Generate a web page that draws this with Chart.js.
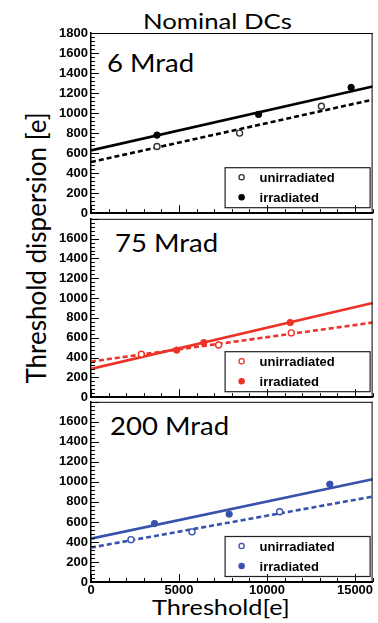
<!DOCTYPE html>
<html><head><meta charset="utf-8">
<script src="https://cdn.jsdelivr.net/npm/chart.js@4.4.0/dist/chart.umd.min.js"></script>
<style>
html,body{margin:0;padding:0;background:#fff;}
body{width:378px;height:623px;position:relative;overflow:hidden;}
canvas{position:absolute;left:0;}
.t{position:absolute;white-space:nowrap;color:#000;font-family:Lato,sans-serif;line-height:1;transform-origin:0 50%;}
</style></head><body>
<div class="t" style="left:143px;top:10px;font-size:22px;transform:scaleX(1.17);">Nominal DCs</div>
<div class="t" style="left:36px;top:248px;font-size:26px;transform-origin:50% 50%;transform:translate(-50%,-50%) rotate(-90deg);">Threshold dispersion [e]</div>
<div class="t" style="left:152px;top:596px;font-size:22px;transform:scaleX(1.15);">Threshold[e]</div>
<div class="t" id="lab0" style="left:107px;top:50px;font-size:25px;transform:scaleX(1.1);"></div>
<div class="t" id="lab1" style="left:115px;top:230px;font-size:25px;transform:scaleX(1.1);"></div>
<div class="t" id="lab2" style="left:110px;top:413px;font-size:25px;transform:scaleX(1.1);"></div>
<canvas id="c0" width="378" height="224" style="top:0px"></canvas>
<canvas id="c1" width="378" height="200" style="top:208px"></canvas>
<canvas id="c2" width="378" height="232" style="top:391px"></canvas>
<script>
// ---- data ----
const panelLabels = ['6 Mrad', '75 Mrad', '200 Mrad'];
const seriesLabels = ['unirradiated', 'irradiated'];
const xTicks = [0, 5000, 10000, 15000];
const yTicks = [0, 200, 400, 600, 800, 1000, 1200, 1400, 1600, 1800];
const fitX = [0, 16000];

const unirrX6 = [3750, 8440, 13090];
const unirrY6 = [666, 800, 1069];
const irrX6 = [3750, 9520, 14780];
const irrY6 = [780, 987, 1256];
const fitUnirr6 = [511, 1134];
const fitIrr6 = [627, 1266];

const unirrX75 = [2860, 7250, 11380];
const unirrY75 = [433, 527, 649];
const irrX75 = [4870, 6410, 11320];
const irrY75 = [475, 551, 753];
const fitUnirr75 = [360, 753];
const fitIrr75 = [285, 950];

const unirrX200 = [2270, 5740, 10720];
const unirrY200 = [423, 501, 702];
const irrX200 = [3610, 7850, 13570];
const irrY200 = [584, 678, 977];
const fitUnirr200 = [344, 853];
const fitIrr200 = [433, 1027];

// ---- build ----
const pts = (xs, ys) => xs.map((x, k) => ({x: x, y: ys[k]}));
const panels = [
  {ux: unirrX6, uy: unirrY6, ix: irrX6, iy: irrY6, fu: fitUnirr6, fi: fitIrr6, color: '#000000', open: '#333333'},
  {ux: unirrX75, uy: unirrY75, ix: irrX75, iy: irrY75, fu: fitUnirr75, fi: fitIrr75, color: 'rgb(238,50,40)', open: 'rgb(238,50,40)'},
  {ux: unirrX200, uy: unirrY200, ix: irrX200, iy: irrY200, fu: fitUnirr200, fi: fitIrr200, color: 'rgb(55,82,172)', open: 'rgb(55,82,172)'}
];
const layoutCfg = [
  {padTop: 33, xh: 8},
  {padTop: 8, xh: 10},
  {padTop: 8, xh: 41}
];

const framePlugin = {
  id: 'frameTicks',
  afterDraw(chart) {
    const {ctx, chartArea: {left, right, top, bottom}, scales: {x, y}} = chart;
    ctx.save();
    ctx.strokeStyle = '#000';
    ctx.lineWidth = 1;
    ctx.beginPath();
    ctx.moveTo(left, top + 0.5); ctx.lineTo(right, top + 0.5);
    ctx.moveTo(right - 0.5, top); ctx.lineTo(right - 0.5, bottom);
    for (let v = y.min; v <= y.max; v += 40) {
      const py = Math.round(y.getPixelForValue(v)) + 0.5;
      const len = (v % 200 === 0) ? 8 : 4;
      ctx.moveTo(left, py); ctx.lineTo(left + len, py);
    }
    for (let v = x.min; v <= x.max; v += 1000) {
      const px = Math.round(x.getPixelForValue(v)) + 0.5;
      const len = (v % 5000 === 0) ? 8 : 4;
      ctx.moveTo(px, bottom); ctx.lineTo(px, bottom - len);
    }
    ctx.stroke();
    // legend box
    const w = 145, h = 40;
    const bx = right - 3 - w, by = bottom - 6 - h;
    ctx.lineWidth = 1.2;
    ctx.strokeStyle = '#222';
    ctx.strokeRect(bx + 0.5, by + 0.5, w, h);
    const ds = chart.data.datasets;
    ctx.font = 'bold 13px "Liberation Sans", Arial, sans-serif';
    ctx.textBaseline = 'middle';
    ctx.textAlign = 'left';
    [2, 3].forEach((di, k) => {
      const d = ds[di];
      const my = by + 10 + k * 20;
      ctx.beginPath();
      ctx.arc(bx + 17, my, 2.6, 0, Math.PI * 2);
      ctx.fillStyle = d.backgroundColor;
      ctx.fill();
      ctx.lineWidth = 1.3;
      ctx.strokeStyle = d.borderColor;
      ctx.stroke();
      ctx.fillStyle = '#000';
      ctx.fillText(d.label, bx + 35, my + 1);
    });
    ctx.restore();
  }
};

panels.forEach((p, i) => {
  document.getElementById('lab' + i).textContent = panelLabels[i];
  const lc = layoutCfg[i];
  new Chart(document.getElementById('c' + i), {
    type: 'scatter',
    data: {
      datasets: [
        {type: 'line', label: 'fit ' + seriesLabels[0], data: pts(fitX, p.fu), borderColor: p.color, borderWidth: 2.6, borderDash: [5, 3], pointRadius: 0, fill: false, order: 3},
        {type: 'line', label: 'fit ' + seriesLabels[1], data: pts(fitX, p.fi), borderColor: p.color, borderWidth: 2.6, pointRadius: 0, fill: false, order: 2},
        {label: seriesLabels[0], data: pts(p.ux, p.uy), pointRadius: 3, borderWidth: 1.4, borderColor: p.open, backgroundColor: '#ffffff', order: 1},
        {label: seriesLabels[1], data: pts(p.ix, p.iy), pointRadius: 3.2, borderWidth: 1, borderColor: p.color, backgroundColor: p.color, order: 0}
      ]
    },
    options: {
      responsive: false, animation: false, devicePixelRatio: 1,
      layout: {padding: {top: lc.padTop, right: 2, left: 0, bottom: 0}},
      plugins: {legend: {display: false}, tooltip: {enabled: false}, title: {display: false}},
      scales: {
        x: {
          type: 'linear', min: 0, max: 16000,
          afterBuildTicks: s => { s.ticks = xTicks.map(v => ({value: v})); },
          afterFit: s => { s.height = lc.xh; },
          ticks: {display: i === 2, autoSkip: false, maxRotation: 0, padding: 1, color: '#000',
                  font: {family: '"Liberation Sans", Arial, sans-serif', weight: 'bold', size: 13},
                  callback: v => String(v)},
          grid: {display: true, drawOnChartArea: false, drawTicks: false},
          border: {display: true, color: '#000', width: 2}
        },
        y: {
          type: 'linear', min: 0, max: 1800,
          afterBuildTicks: s => { s.ticks = yTicks.map(v => ({value: v})); },
          afterFit: s => { s.width = 91; },
          ticks: {autoSkip: false, padding: 3, color: '#000',
                  font: {family: '"Liberation Sans", Arial, sans-serif', weight: 'bold', size: 13},
                  callback: v => (i > 0 && v === 1800) ? '' : String(v)},
          grid: {display: true, drawOnChartArea: false, drawTicks: false},
          border: {display: true, color: '#000', width: 1.5}
        }
      }
    },
    plugins: [framePlugin]
  });
});
</script>
</body></html>
